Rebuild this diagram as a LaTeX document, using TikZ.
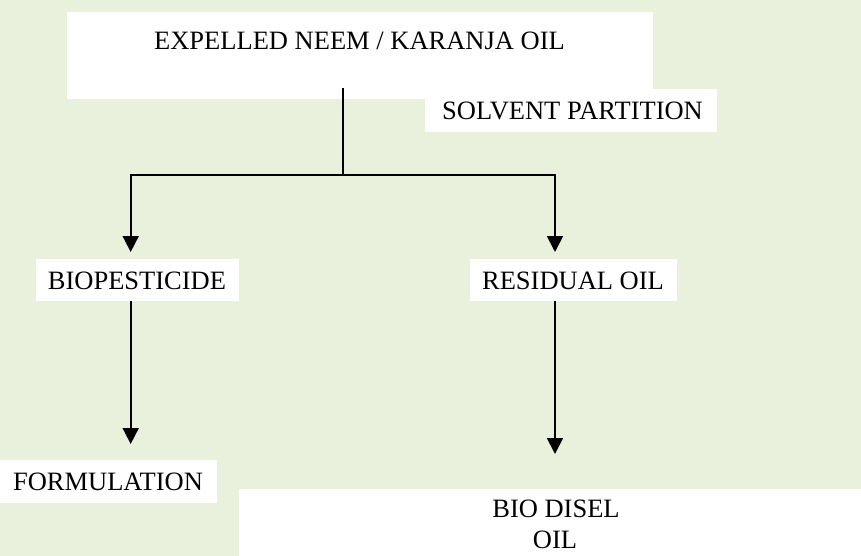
\documentclass[tikz,border=0pt]{standalone}
\usepackage{fontspec}
\setmainfont{Liberation Serif}
\usetikzlibrary{arrows.meta}
\definecolor{bggreen}{HTML}{E9F0DC}
\tikzset{
  wbox/.style={rectangle, fill=white, draw=none, inner sep=0pt},
  lbl/.style={anchor=base, inner sep=0pt, font=\fontsize{26.5}{30.6}\selectfont},
  conn/.style={line width=1.8pt, black},
  arr/.style={conn, -{Triangle[width=16pt,length=16pt]}}
}
\begin{document}
\begin{tikzpicture}[x=1pt,y=-1pt]
\useasboundingbox (0,0) rectangle (861,556);
\fill[bggreen] (0,0) rectangle (861,556);
% boxes
\node[wbox, minimum width=586pt, minimum height=87pt] (topbox) at (360,55.5) {};
\node[wbox, minimum width=292pt, minimum height=43pt] (solbox) at (571,110.5) {};
\node[wbox, minimum width=203pt, minimum height=42pt] (biobox) at (137.5,280) {};
\node[wbox, minimum width=207pt, minimum height=42pt] (resbox) at (573.5,280) {};
\node[wbox, minimum width=217pt, minimum height=43pt] (forbox) at (108.5,481.5) {};
\node[wbox, minimum width=622pt, minimum height=67pt] (dieselbox) at (550,522.5) {};
% texts
\node[lbl] (toptext) at (359.5,49.5) {EXPELLED NEEM / KARANJA OIL};
\node[lbl] (soltext) at (572.5,120) {SOLVENT PARTITION};
\node[lbl] (biotext) at (137,289) {BIOPESTICIDE};
\node[lbl] (restext) at (573,289) {RESIDUAL OIL};
\node[lbl] (fortext) at (108,490) {FORMULATION};
\node[lbl] (dieseltext) at (556,517.7) {BIO DISEL};
\node[lbl] (oiltext) at (555,548.3) {OIL};
% connector points
\coordinate (start) at (343,88);
\coordinate (junction) at (343,175);
\coordinate (lefttop) at (130.7,175);
\coordinate (righttop) at (555,175);
\coordinate (biotip) at (130.7,252);
\coordinate (restip) at (555,252);
\coordinate (biobot) at (130.7,301);
\coordinate (fortip) at (130.7,444);
\coordinate (resbot) at (555,301);
\coordinate (dieseltip) at (555,454);
% connectors
\draw[conn] (start) -- (junction);
\draw[arr] (junction) -- (lefttop) -- (biotip);
\draw[arr] (junction) -- (righttop) -- (restip);
\draw[arr] (biobot) -- (fortip);
\draw[arr] (resbot) -- (dieseltip);
\end{tikzpicture}
\end{document}
